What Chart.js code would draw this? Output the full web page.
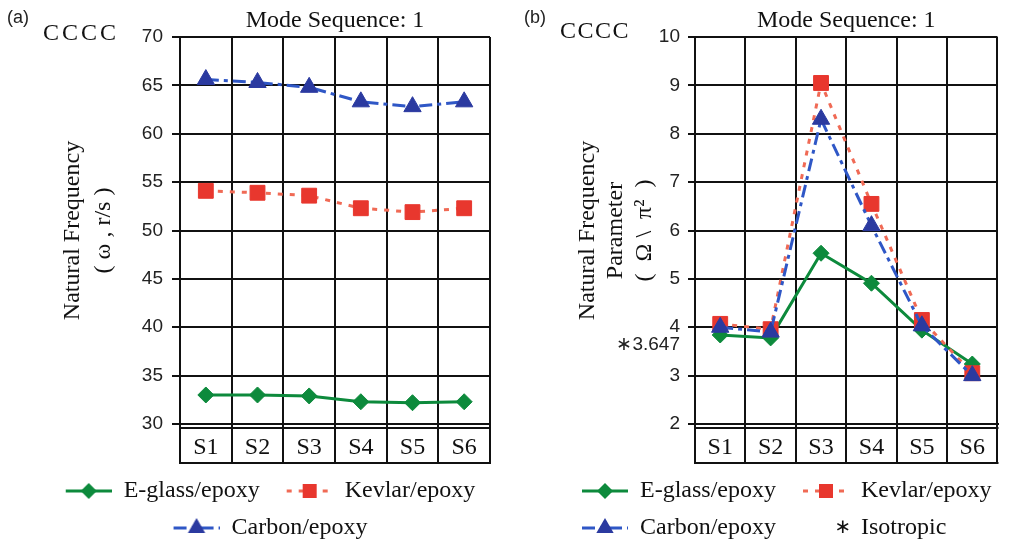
<!DOCTYPE html>
<html><head><meta charset="utf-8">
<script src="https://cdn.jsdelivr.net/npm/chart.js@4.4.1/dist/chart.umd.min.js"></script>
<style>
html,body{margin:0;padding:0;background:#fff;}
body{width:1009px;height:544px;overflow:hidden;position:relative;}
.panel{position:absolute;top:0;height:550px;}
.tag{position:absolute;font-family:"Liberation Sans",Arial,sans-serif;font-size:18px;line-height:18px;color:#222;}
.bc{position:absolute;font-family:"Liberation Serif","Times New Roman",serif;font-size:24px;line-height:24px;color:#111;letter-spacing:3px;}
</style></head><body>
<div class="panel" style="left:0;width:505px"><canvas id="chartA"></canvas></div>
<div class="panel" style="left:505px;width:504px"><canvas id="chartB"></canvas></div>
<div class="tag" style="left:7px;top:8px">(a)</div>
<div class="bc" style="left:43px;top:20px">CCCC</div>
<div class="tag" style="left:524px;top:8px">(b)</div>
<div class="bc" style="left:560px;top:18px;letter-spacing:1.5px">CCCC</div>
<script>
// ---------- data ----------
const categories = ['S1', 'S2', 'S3', 'S4', 'S5', 'S6'];
const seriesNames = ['E-glass/epoxy', 'Kevlar/epoxy', 'Carbon/epoxy'];
const isotropicName = 'Isotropic';
const freqEglass = [33.0, 33.0, 32.9, 32.3, 32.2, 32.3];
const freqKevlar = [54.1, 53.9, 53.6, 52.3, 51.9, 52.3];
const freqCarbon = [65.6, 65.3, 64.8, 63.3, 62.8, 63.3];
const paramEglass = [3.84, 3.78, 5.53, 4.91, 3.94, 3.24];
const paramKevlar = [4.07, 3.96, 9.05, 6.55, 4.15, 3.05];
const paramCarbon = [4.0, 3.9, 8.3, 6.1, 4.03, 3.0];
const isotropic = [3.647];
const titleText = 'Mode Sequence: 1';
const yTitleA = ['Natural Frequency', '( ω , r/s )'];
const yTitleB = ['Natural Frequency', 'Parameter', '(  Ω \\  π²  )'];
const yRangeA = [30, 70, 5];
const yRangeB = [2, 10, 1];

// ---------- styles ----------
const SERIF = '"Liberation Serif","Times New Roman",serif';
const SANS = '"Liberation Sans",Arial,sans-serif';
const INK = '#111';
const styles = [
  {color: '#0d8a3c', line: '#0d8a3c', dash: [], point: 'rectRot', r: 8},
  {color: '#e8372e', line: '#f06a55', dash: [5, 7], point: 'rect', r: 10.5},
  {color: '#2b3aa0', line: '#2f57c6', dash: [13, 5, 4, 5], point: 'triangle', r: 10}
];

function legendImage(st, W, margin, kind) {
  const c = document.createElement('canvas');
  c.width = W; c.height = 26;
  const g = c.getContext('2d');
  const cy = 13;
  if (kind === 'star') {
    g.fillStyle = INK;
    g.font = '20px "DejaVu Sans",sans-serif';
    g.textAlign = 'center'; g.textBaseline = 'middle';
    g.fillText('\u2217', W - 6, cy);
    return c;
  }
  g.strokeStyle = st.line; g.lineWidth = 3; g.setLineDash(st.dash);
  g.beginPath(); g.moveTo(margin, cy); g.lineTo(W, cy); g.stroke();
  g.setLineDash([]);
  const cx = (margin + W) / 2;
  g.fillStyle = st.color;
  g.beginPath();
  if (st.point === 'rectRot') {
    const r = 8;
    g.moveTo(cx, cy - r); g.lineTo(cx + r, cy); g.lineTo(cx, cy + r); g.lineTo(cx - r, cy);
  } else if (st.point === 'rect') {
    const s = 7;
    g.rect(cx - s, cy - s, 2 * s, 2 * s);
  } else {
    const r = 10;
    g.moveTo(cx, cy - r); g.lineTo(cx + 0.866 * r, cy + r / 2); g.lineTo(cx - 0.866 * r, cy + r / 2);
  }
  g.closePath(); g.fill();
  return c;
}

const LW = 60, LM = 14;
const legendImgs = styles.map(st => legendImage(st, LW, LM));
const starImg = legendImage(null, LW, LM, 'star');

function makeLegend(names, imgs) {
  return () => names.map((n, i) => ({
    text: n, pointStyle: imgs[i], datasetIndex: i, hidden: false,
    fontColor: INK, lineWidth: 0, strokeStyle: 'rgba(0,0,0,0)', fillStyle: 'rgba(0,0,0,0)'
  }));
}

const ds = (label, data, st, order) => ({
  label, data, order,
  borderColor: st.line, backgroundColor: st.color, borderWidth: 3, borderDash: st.dash,
  pointStyle: st.point, pointRadius: st.r, pointHoverRadius: st.r,
  pointBorderColor: st.color, pointBackgroundColor: st.color, pointBorderWidth: 1,
  tension: 0, fill: false
});

const rowBox = {
  id: 'rowBox',
  afterDraw(chart) {
    const {ctx, chartArea: {left, right, bottom}} = chart;
    ctx.save();
    ctx.strokeStyle = INK; ctx.lineWidth = 2;
    ctx.beginPath();
    ctx.moveTo(left - 1, bottom + 4); ctx.lineTo(right + 1, bottom + 4);
    ctx.moveTo(left - 1, bottom + 39); ctx.lineTo(right + 1, bottom + 39);
    ctx.stroke();
    ctx.restore();
  }
};

function config(o) {
  return {
    type: 'line',
    data: {
      labels: categories,
      datasets: [
        ds(seriesNames[0], o.eg, styles[0], 2),
        ds(seriesNames[1], o.kv, styles[1], 1),
        ds(seriesNames[2], o.cb, styles[2], 0)
      ]
    },
    plugins: [rowBox],
    options: {
      responsive: true, maintainAspectRatio: false, animation: false,
      events: [],
      layout: {padding: {left: o.padL, right: o.padR, top: 0, bottom: 0}},
      plugins: {
        tooltip: {enabled: false},
        title: {display: false},
        legend: {
          position: 'bottom', align: o.legendAlign,
          labels: {
            usePointStyle: true, pointStyleWidth: LW, boxHeight: 24, padding: 13,
            font: {family: SERIF, size: 24}, color: INK,
            generateLabels: makeLegend(o.legendNames, o.legendImgs)
          }
        }
      },
      scales: {
        x: {
          type: 'category', position: 'bottom', offset: true,
          grid: {offset: true, color: INK, lineWidth: 2, tickLength: 39, drawTicks: true},
          border: {color: INK, width: 2},
          ticks: {padding: -30, font: {family: SERIF, size: 24}, color: INK, autoSkip: false, maxRotation: 0},
          afterFit: s => { s.height = 42; }
        },
        x2: {
          type: 'category', position: 'top',
          grid: {display: false}, border: {display: false}, ticks: {display: false},
          title: {display: true, text: titleText, font: {family: SERIF, size: 24}, color: INK, padding: {top: 6, bottom: 0}},
          afterFit: s => { s.height = 37; }
        },
        y: {
          position: 'left', min: o.yr[0], max: o.yr[1],
          afterBuildTicks: o.extraTick ? (s => {
            s.ticks.push({value: isotropic[0]});
            s.ticks.sort((a, b) => a.value - b.value);
          }) : undefined,
          ticks: {
            stepSize: o.yr[2], padding: o.tickPad, autoSkip: false,
            font: {family: SANS, size: 19}, color: '#222',
            callback: v => (v === isotropic[0] ? '\u2217' + v.toFixed(3) : v)
          },
          grid: {
            lineWidth: 2, tickLength: o.tickLen,
            color: c => (c.tick && c.tick.value === isotropic[0]) ? 'rgba(0,0,0,0)' : INK
          },
          border: {color: INK, width: 2},
          title: {display: true, text: o.yTitle, font: {family: SERIF, size: 24, lineHeight: o.titleLH}, color: INK, padding: {top: o.titlePad, bottom: 0}},
          afterFit: s => { s.width = o.yWidth; }
        }
      }
    }
  };
}

new Chart(document.getElementById('chartA'), config({
  eg: freqEglass, kv: freqKevlar, cb: freqCarbon,
  padL: 37, padR: 15, yWidth: 143, yr: yRangeA, tickPad: 9, tickLen: 8,
  yTitle: yTitleA, titleLH: 1.3, titlePad: 20, extraTick: false,
  legendAlign: 'center', legendNames: seriesNames, legendImgs: legendImgs
}));

new Chart(document.getElementById('chartB'), config({
  eg: paramEglass, kv: paramKevlar, cb: paramCarbon,
  padL: 50, padR: 4, yWidth: 140, yr: yRangeB, tickPad: 8, tickLen: 7,
  yTitle: yTitleB, titleLH: 1.2, titlePad: 18, extraTick: true,
  legendAlign: 'start', legendNames: seriesNames.concat([isotropicName]), legendImgs: legendImgs.concat([starImg])
}));
</script>
</body></html>
